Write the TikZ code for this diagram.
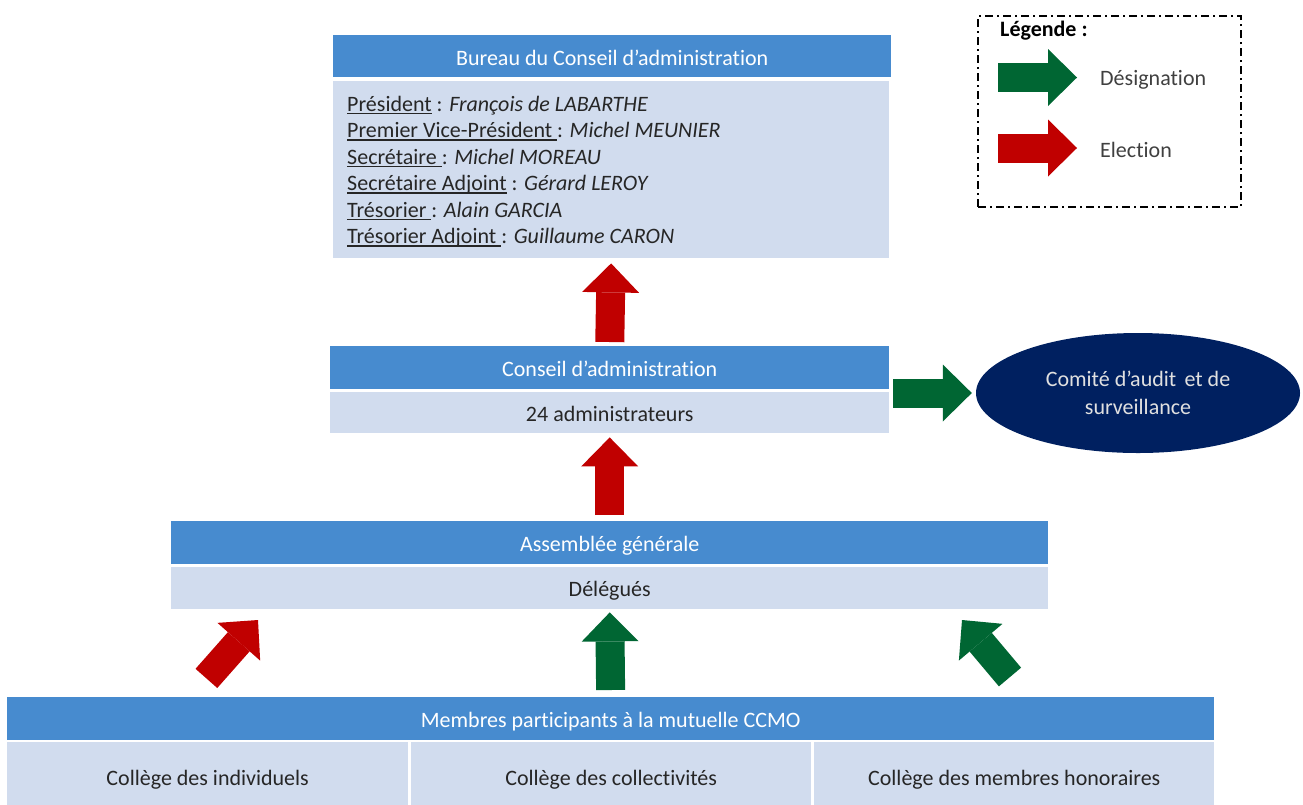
\documentclass[tikz,border=0pt]{standalone}
\usepackage{fontspec}
\setmainfont{Carlito}[Ligatures=NoCommon]
\usetikzlibrary{arrows.meta,shapes.geometric,calc}
\newcommand{\myul}[1]{{\setbox0\hbox{#1}\rlap{\rule[-3pt]{\wd0}{1.3pt}}\box0}}
\definecolor{hdr}{RGB}{71,139,207}
\definecolor{bdy}{RGB}{209,220,238}
\definecolor{elecred}{RGB}{192,0,0}
\definecolor{desgreen}{RGB}{0,102,51}
\definecolor{navy}{RGB}{0,32,96}
\definecolor{txt}{RGB}{38,38,38}
\begin{document}
\begin{tikzpicture}[x=1pt,y=-1pt,
  font=\fontsize{22}{26.5}\selectfont,
  hbox/.style={rectangle, fill=hdr, text=white, inner sep=0pt, anchor=north west, text height=20pt, text depth=2pt},
  bbox/.style={rectangle, fill=bdy, text=txt, inner sep=0pt, anchor=north west, text height=19.5pt, text depth=2.5pt},
  lline/.style={anchor=base west, inner sep=0pt, text=txt},
  blockarrow/.style={line width=29pt, -{Triangle[length=29pt,width=57pt,line width=0pt]}},
  elec/.style={blockarrow, draw=elecred, color=elecred},
  desig/.style={blockarrow, draw=desgreen, color=desgreen},
  legendbox/.style={draw=black, line width=2pt, dash pattern=on 8pt off 4pt on 2pt off 4pt, anchor=north west, inner sep=0pt},
]
\useasboundingbox (0,0) rectangle (1303,804);

% Bureau
\node[hbox, minimum width=558pt, minimum height=42pt] (bhead) at (333,35) {Bureau du Conseil d’administration};
\node[bbox, minimum width=556pt, minimum height=177pt] (bbody) at (333,81) {};
\node[lline] (l1) at (347,111) {\myul{Président} : \textit{François de LABARTHE}};
\node[lline] (l2) at (347,137.5) {\myul{Premier Vice-Président }: \textit{Michel MEUNIER}};
\node[lline] (l3) at (347,164) {\myul{Secrétaire }: \textit{Michel MOREAU}};
\node[lline] (l4) at (347,190.5) {\myul{Secrétaire Adjoint} : \textit{Gérard LEROY}};
\node[lline] (l5) at (347,217) {\myul{Trésorier }: \textit{Alain GARCIA}};
\node[lline] (l6) at (347,243.5) {\myul{Trésorier Adjoint }: \textit{Guillaume CARON}};

% Conseil
\node[hbox, minimum width=559pt, minimum height=43pt] (cahead) at (330,346) {Conseil d’administration};
\node[bbox, minimum width=559pt, minimum height=41pt] (cabody) at (330,392) {24 administrateurs};

% Comite
\node[ellipse, fill=navy, text=white!88!black, minimum width=324pt, minimum height=120pt, inner sep=0pt, align=center, font=\fontsize{22}{28}\selectfont] (comite) at (1138,393) {Comité d’audit\hspace{0.15em} et de\\surveillance};

% Assemblee
\node[hbox, minimum width=877pt, minimum height=43pt] (ahead) at (171,521) {Assemblée générale};
\node[bbox, minimum width=877pt, minimum height=42pt] (abody) at (171,567) {Délégués};

% Membres
\node[hbox, minimum width=1207pt, minimum height=43pt] (mhead) at (7,697) {Membres participants à la mutuelle CCMO};
\node[bbox, minimum width=401pt, minimum height=70pt] (c1) at (7,742) {Collège des individuels};
\node[bbox, minimum width=400pt, minimum height=70pt] (c2) at (411,742) {Collège des collectivités};
\node[bbox, minimum width=400pt, minimum height=70pt] (c3) at (814,742) {Collège des membres honoraires};

% arrows
\draw[elec, shorten <=4pt, shorten >=5pt] (cahead.north) -- (bbody.south);
\draw[elec, shorten <=6pt, shorten >=4pt] (ahead.north) -- (cabody.south);
\draw[desig, shorten <=4pt, shorten >=4pt] (comite.west -| cahead.east) -- (comite.west);
\draw[desig, shorten <=7pt, shorten >=3pt] (mhead.north) -- (abody.south);
\coordinate (rt) at (206.4,678.4);
\coordinate (rh) at (258,620);
\draw[elec] (rt) -- (rh);
\coordinate (gt) at (1010,677);
\coordinate (gh) at (962,620);
\draw[desig] (gt) -- (gh);

% Legend
\node[legendbox, minimum width=263pt, minimum height=191pt] (legend) at (977,15) {};
\node[lline, text=black] (lgtitle) at (1000,36.5) {\textbf{Légende :}};
\coordinate (lg1a) at (998,77.5);
\coordinate (lg1b) at (1077,77.5);
\draw[desig] (lg1a) -- (lg1b);
\coordinate (lg2a) at (998,148);
\coordinate (lg2b) at (1077,148);
\draw[elec] (lg2a) -- (lg2b);
\node[lline, text=black!75] (tdes) at (1100,85) {Désignation};
\node[lline, text=black!75] (tel) at (1100,157.5) {Election};
\end{tikzpicture}
\end{document}
